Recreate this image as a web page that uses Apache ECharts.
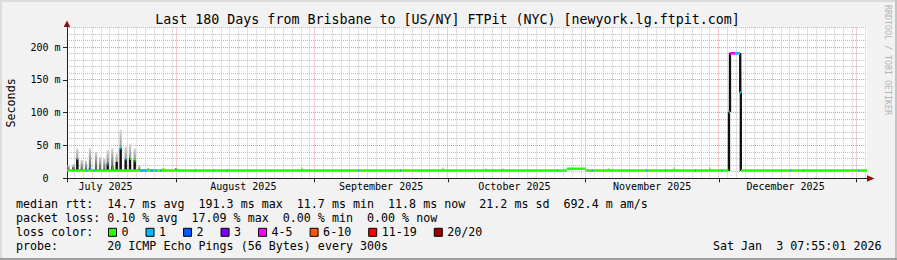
<!DOCTYPE html>
<html><head><meta charset="utf-8">
<script src="https://cdn.jsdelivr.net/npm/echarts@6/dist/echarts.min.js"></script>
<style>html,body{margin:0;padding:0;background:#f2f2f2;overflow:hidden}#c{width:897px;height:260px}</style>
</head><body><div id="c"></div>
<script>
// ================= DATA =================
const chartTitle = 'Last 180 Days from Brisbane to [US/NY] FTPit (NYC) [newyork.lg.ftpit.com]';
// x unit: days since 2025-07-01 00:00 local time
const startDay = 6.3299;   // Mon Jul 7 07:55
const endDay = 186.3299;   // Sat Jan 3 07:55
const monthStartDays = [0, 31, 62, 92, 123, 153, 184];   // Jul 1 .. Jan 1
const monthLengths   = [31, 31, 30, 31, 30, 31, 31];
const monthLabelDays = [15, 46, 77, 107, 138, 168];
const monthLabels = ['July 2025', 'August 2025', 'September 2025', 'October 2025', 'November 2025', 'December 2025'];
const yTickValues = [0, 50, 100, 150, 200];
const yTickLabels = ['0', '50 m', '100 m', '150 m', '200 m'];

const lossNames  = ['0', '1', '2', '3', '4-5', '6-10', '11-19', '20/20'];
const lossColors = ['#26ff00', '#00b8ff', '#0059ff', '#7e00ff', '#ff00ff', '#ff5500', '#ff0000', '#a10000'];

// median rtt segments (ms) with loss class index
const medStart = [6.33, 118.8, 122.9, 155.2, 155.45, 156.65, 157.75, 157.97,
  22.8, 25.07, 26.2, 27.3,
  35.13, 39.25, 42.27, 71.8, 81.3, 116.5, 124.4, 136.6, 140.9, 147.6, 153.6, 169.0, 171.9, 184.3, 10.6, 12.3,
  8.55, 11.45, 15.4, 18.3, 19.45, 20.45, 21.5, 16.4, 7.7,
  59.1, 90.8, 128.0, 142.8, 150.9, 27.8, 30.8];
const medEnd = [118.8, 122.9, 155.2, 155.45, 156.65, 157.75, 157.97, 186.33,
  24.3, 25.84, 26.6, 27.7,
  35.38, 39.5, 42.52, 72.05, 81.55, 116.75, 124.65, 136.85, 141.15, 147.85, 153.85, 169.25, 172.15, 184.55, 10.85, 12.55,
  8.8, 11.7, 15.65, 18.55, 19.7, 20.7, 21.75, 16.65, 7.95,
  59.35, 91.05, 128.25, 143.05, 151.15, 28.3, 31.05];
const medMs = [11.8, 14.6, 11.8, 101, 190.5, 190.5, 131, 11.8,
  11.8, 11.8, 11.8, 11.8,
  11.8, 11.8, 11.8, 11.8, 11.8, 11.8, 11.8, 11.8, 11.8, 11.8, 11.8, 11.8, 11.8, 11.8, 11.8, 11.8,
  30, 15, 21, 46, 29, 30, 27, 16, 16,
  14.5, 14.5, 13.5, 14.5, 14.5, 13.5, 13.5];
const medLoss = [0, 0, 0, 1, 4, 1, 1, 0,
  1, 1, 1, 1,
  1, 1, 1, 1, 1, 1, 1, 1, 1, 1, 1, 1, 1, 1, 1, 1,
  1, 1, 1, 1, 1, 0, 0, 0, 0,
  0, 0, 0, 0, 0, 0, 0];

// smoke columns: spread of the 20 pings (ms)
const smokeDay  = [6.67, 7.79, 8.65, 9.64, 10.6, 11.5, 12.86, 13.76, 14.72, 15.49, 16.52, 17.51, 18.41, 19.54, 20.51, 21.56, 22.6, 24.6, 30.86, 100.6, 102.6, 104.4, 155.28, 155.5, 157.8, 157.95];
const smokeLo   = [11, 11, 11, 11, 11, 11, 11, 11, 11, 11, 11, 11, 11, 11, 11, 11, 11, 11, 11, 11, 11, 11, 11, 101, 131, 11];
const smokeHi   = [20, 22, 46, 28, 27, 46, 41, 33, 30, 43, 46, 38, 74, 48, 52, 46, 20, 16, 15, 15, 14, 15, 101, 191, 191, 131];
const smokeCore = [13, 17, 30, 14, 13, 16, 14, 13, 13, 23, 18, 25, 46, 29, 31, 28, 13, 13, 15, 11, 11, 11, 101, 191, 191, 131];

const statRows = [
  'median rtt:  14.7 ms avg  191.3 ms max  11.7 ms min  11.8 ms now  21.2 ms sd  692.4 m am/s',
  'packet loss: 0.10 % avg  17.09 % max  0.00 % min  0.00 % now',
  'loss color:',
  'probe:       20 ICMP Echo Pings (56 Bytes) every 300s'
];
const stampText = 'Sat Jan  3 07:55:01 2026';
const creditText = 'RRDTOOL / TOBI OETIKER';

// ================= CHART =================
const mono = '"DejaVu Sans Mono", monospace';
const GRAY = '#c2c2c2', RED = '#e89696', ARROW = '#8b1212', AXIS = '#222';

// grid lines (calendar based)
const vGrid = [];
for (let m = 0; m < monthStartDays.length; m++) {
  if (monthStartDays[m] >= startDay && monthStartDays[m] <= endDay) vGrid.push([monthStartDays[m], 0, 1]);
  for (let dom = 3; dom <= monthLengths[m]; dom += 2) {
    const d = monthStartDays[m] + dom - 1;
    if (d > startDay && d < endDay) vGrid.push([d, 0, 0]);
  }
}
const hGrid = [];
for (let v = 10; v <= 230; v += 10) hGrid.push([startDay, v, v % 50 === 0 ? 1 : 0]);

const segs = medStart.map((s, i) => ({s, e: medEnd[i], v: medMs[i], l: medLoss[i]}));

function renderMed(params, api) {
  const s = api.value(0), e = api.value(1), v = api.value(2);
  const p0 = api.coord([s, v]), p1 = api.coord([e, v]);
  return {type: 'rect', shape: {x: p0[0], y: p0[1] - 1.3, width: Math.max(p1[0] - p0[0], 1), height: 2.6},
          style: {fill: api.visual('color')}};
}
function renderSmoke(params, api) {
  const d = api.value(0), lo = api.value(1), hi = api.value(2), core = api.value(3);
  const w = api.size([0.5, 0])[0];
  const pLo = api.coord([d, lo]), pHi = api.coord([d, hi]), pCore = api.coord([d, core]);
  const children = [];
  if (hi > lo) children.push({type: 'rect', shape: {x: pLo[0] - w / 2, y: pHi[1], width: w, height: pLo[1] - pHi[1]},
    style: {fill: new echarts.graphic.LinearGradient(0, 0, 0, 1, [{offset: 0, color: '#d6d6d6'}, {offset: 1, color: '#4a4a4a'}])}});
  if (core > lo) children.push({type: 'rect', shape: {x: pLo[0] - w / 2, y: pCore[1], width: w, height: pLo[1] - pCore[1]},
    style: {fill: '#101010'}});
  return {type: 'group', children};
}
function renderV(params, api) {
  const cs = params.coordSys;
  const x = Math.floor(api.coord([api.value(0), 0])[0]) + 0.5;
  return {type: 'line', shape: {x1: x, y1: cs.y, x2: x, y2: cs.y + cs.height},
          style: {stroke: api.value(2) ? RED : GRAY, lineWidth: 1, lineDash: [1, 1]}};
}
function renderH(params, api) {
  const cs = params.coordSys;
  const y = Math.floor(api.coord([startDay, api.value(1)])[1]) + 0.5;
  return {type: 'line', shape: {x1: cs.x, y1: y, x2: cs.x + cs.width, y2: y},
          style: {stroke: api.value(2) ? RED : GRAY, lineWidth: 1, lineDash: [1, 1]}};
}

function monoText(str, x0, y, cw, size, color) {
  const out = []; const re = /\S+/g; let m;
  while ((m = re.exec(str))) {
    out.push({type: 'text', x: x0 + m.index * cw, y: y, silent: true,
      style: {text: m[0], fill: color || '#000', font: size + 'px ' + mono,
              textAlign: 'left', align: 'left', textVerticalAlign: 'middle', verticalAlign: 'middle'}});
  }
  return out;
}

const CW = 7.02, FS = 11.66;
const graphics = [];
// frame
graphics.push({type: 'rect', shape: {x: 0, y: 0, width: 897, height: 2}, style: {fill: '#dcdcdc'}, silent: true});
graphics.push({type: 'rect', shape: {x: 0, y: 0, width: 2, height: 260}, style: {fill: '#dcdcdc'}, silent: true});
graphics.push({type: 'rect', shape: {x: 895, y: 0, width: 2, height: 260}, style: {fill: '#c4c4c4'}, silent: true});
graphics.push({type: 'rect', shape: {x: 0, y: 258, width: 897, height: 2}, style: {fill: '#9e9e9e'}, silent: true});
// title
graphics.push({type: 'text', x: 447.5, y: 19.3, silent: true,
  style: {text: chartTitle, fill: '#000', font: '13.3px ' + mono, textAlign: 'center', align: 'center', textVerticalAlign: 'middle', verticalAlign: 'middle'}});
// credit
graphics.push({type: 'text', x: 887.5, y: 60, rotation: -Math.PI / 2, silent: true,
  style: {text: creditText, fill: '#b4b4b4', font: '8.3px ' + mono, textAlign: 'center', align: 'center', textVerticalAlign: 'middle', verticalAlign: 'middle'}});
// stats
const rowY = [204, 218.3, 232.3, 246.3];
statRows.forEach((r, i) => graphics.push(...monoText(r, 16, rowY[i], CW, FS)));
graphics.push(...monoText(stampText, 713, 246.3, CW, FS));
// arrows
graphics.push({type: 'polygon', shape: {points: [[67, 20.5], [63.7, 27], [70.3, 27]]}, style: {fill: ARROW}, silent: true});
graphics.push({type: 'polygon', shape: {points: [[874.5, 178.5], [867, 175.2], [867, 181.8]]}, style: {fill: ARROW}, silent: true});

const series = [
  {type: 'custom', name: 'hgrid', silent: true, z: 0, renderItem: renderH, data: hGrid, encode: {x: 0, y: 1}, animation: false},
  {type: 'custom', name: 'vgrid', silent: true, z: 0, renderItem: renderV, data: vGrid, encode: {x: 0, y: 1}, animation: false},
  {type: 'custom', name: 'smoke', silent: true, z: 1, renderItem: renderSmoke, clip: true,
   data: smokeDay.map((d, i) => [d, smokeLo[i], smokeHi[i], smokeCore[i]]), encode: {x: 0, y: [1, 2, 3]}, animation: false}
];
lossNames.forEach((n, k) => {
  series.push({type: 'custom', name: n, silent: true, z: 2 + k, renderItem: renderMed, clip: true,
    itemStyle: {color: lossColors[k]},
    data: segs.filter(s => s.l === k).map(s => [s.s, s.e, s.v]),
    encode: {x: [0, 1], y: 2}, animation: false});
});

const chart = echarts.init(document.getElementById('c'), null, {renderer: 'svg'});
chart.setOption({
  animation: false,
  backgroundColor: '#f2f2f2',
  grid: {left: 67, top: 27.5, width: 800, height: 150.8, show: true, backgroundColor: '#ffffff', borderWidth: 0,
         containLabel: false, outerBoundsMode: 'none'},
  xAxis: {
    type: 'value', min: startDay, max: endDay,
    axisLine: {show: true, onZero: false, lineStyle: {color: AXIS, width: 1}},
    axisTick: {show: true, customValues: [startDay].concat(monthStartDays.filter(d => d > startDay && d < endDay)), length: 4, lineStyle: {color: AXIS}},
    axisLabel: {customValues: monthLabelDays, formatter: v => monthLabels[monthLabelDays.indexOf(v)] || '',
                fontFamily: mono, fontSize: 10, color: '#000', margin: 3.5},
    splitLine: {show: false}
  },
  yAxis: {
    type: 'value', min: 0, max: 230, interval: 50,
    axisLine: {show: true, onZero: false, lineStyle: {color: AXIS, width: 1}},
    axisTick: {show: true, customValues: yTickValues, length: 4, lineStyle: {color: AXIS}},
    axisLabel: {customValues: yTickValues,
                formatter: v => { const i = yTickValues.indexOf(v); if (i < 0) return ''; return i === 0 ? '{z|' + yTickLabels[0] + '}' : yTickLabels[i]; },
                rich: {z: {padding: [0, 12, 0, 0], fontFamily: mono, fontSize: 10, color: '#000'}},
                fontFamily: mono, fontSize: 10, color: '#000', margin: 6.5},
    splitLine: {show: false},
    name: 'Seconds', nameLocation: 'middle', nameGap: 50,
    nameTextStyle: {fontFamily: mono, fontSize: FS, color: '#000'}
  },
  legend: {
    data: lossNames.map((n, i) => ({name: n, icon: 'rect', itemStyle: {color: lossColors[i], borderColor: '#000', borderWidth: 1}})),
    left: 108, top: 225.3, padding: 0, itemWidth: 8, itemHeight: 8, itemGap: 17, selectedMode: false,
    textStyle: {fontFamily: mono, fontSize: FS, color: '#000', lineHeight: 14}
  },
  graphic: {elements: graphics},
  series: series
});
</script>
</body></html>
